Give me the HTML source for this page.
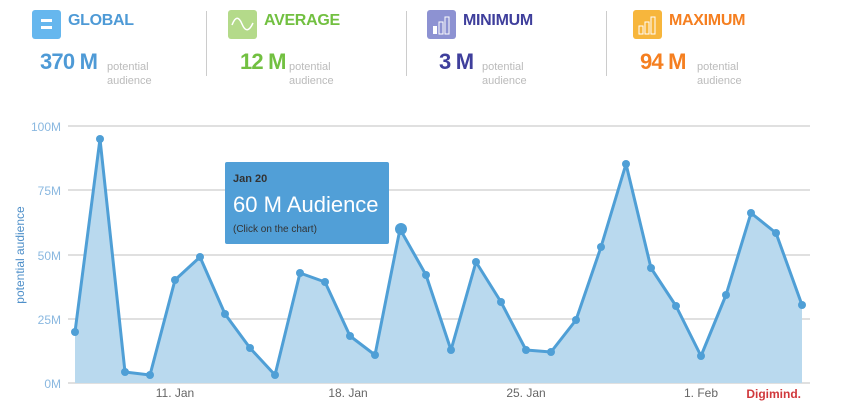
<!DOCTYPE html>
<html><head><style>
body{margin:0;width:841px;height:416px;background:#fff;font-family:"Liberation Sans",sans-serif;overflow:hidden;position:relative}
.k{position:absolute;top:10px}
.ic{position:absolute;left:0;top:0;width:29px;height:29px;border-radius:3px}
.t{position:absolute;left:36px;top:2px;font-weight:bold;font-size:16px;white-space:nowrap;letter-spacing:-0.3px}
.v{position:absolute;top:39px;font-weight:bold;font-size:22px;letter-spacing:-0.8px;white-space:nowrap}
.s{position:absolute;top:50px;font-size:11px;color:#bbb;line-height:14px}
.sep{position:absolute;top:11px;width:1px;height:65px;background:#ccc}
</style></head><body>
<div class="k" style="left:32px"><div class="ic" style="background:#66b7ee"><div style="position:absolute;left:9px;top:9px;width:11px;height:3px;background:#fff"></div><div style="position:absolute;left:9px;top:16px;width:11px;height:3px;background:#fff"></div></div><div class="t" style="color:#4e9ad6">GLOBAL</div><div class="v" style="left:8px;color:#4e9ad6">370 M</div><div class="s" style="left:75px">potential<br>audience</div></div>
<div class="sep" style="left:206px"></div>
<div class="k" style="left:228px"><div class="ic" style="background:#b4da8a"><svg width="29" height="29"><path d="M4 15 Q9 2 14 14 T25 13" stroke="#fff" stroke-width="1.5" fill="none"/></svg></div><div class="t" style="color:#72c041">AVERAGE</div><div class="v" style="left:12px;color:#72c041">12 M</div><div class="s" style="left:61px">potential<br>audience</div></div>
<div class="sep" style="left:406px"></div>
<div class="k" style="left:427px"><div class="ic" style="background:#8d92d2"><svg width="29" height="29"><rect x="6" y="16" width="4" height="8" fill="#fff"/><rect x="12" y="12" width="4" height="12" fill="none" stroke="#fff"/><rect x="18" y="7" width="4" height="17" fill="none" stroke="#fff"/></svg></div><div class="t" style="color:#3f3f9c">MINIMUM</div><div class="v" style="left:12px;color:#3f3f9c">3 M</div><div class="s" style="left:55px">potential<br>audience</div></div>
<div class="sep" style="left:606px"></div>
<div class="k" style="left:633px"><div class="ic" style="background:#f7b63c"><svg width="29" height="29"><rect x="6" y="16" width="4" height="8" fill="none" stroke="#fff"/><rect x="12" y="12" width="4" height="12" fill="none" stroke="#fff"/><rect x="18" y="7" width="4" height="17" fill="none" stroke="#fff"/></svg></div><div class="t" style="color:#f57f20">MAXIMUM</div><div class="v" style="left:7px;color:#f57f20">94 M</div><div class="s" style="left:64px">potential<br>audience</div></div>
<svg width="841" height="416" style="position:absolute;left:0;top:0">
<g stroke="#d6d6d6" stroke-width="1.5"><line x1="68" x2="810" y1="126" y2="126"/><line x1="68" x2="810" y1="190" y2="190"/><line x1="68" x2="810" y1="255" y2="255"/><line x1="68" x2="810" y1="319" y2="319"/><line x1="68" x2="810" y1="383" y2="383"/></g>
<g font-size="12" fill="#8ab8e0" text-anchor="end"><text x="61" y="131">100M</text><text x="61" y="195">75M</text><text x="61" y="260">50M</text><text x="61" y="324">25M</text><text x="61" y="388">0M</text></g>
<text transform="translate(24,255) rotate(-90)" text-anchor="middle" font-size="12" fill="#4e8fc9">potential audience</text>
<polygon fill="#b9d9ee" points="75,383 75,332 100,139 125,372 150,375 175,280 200,257 225,314 250,348 275,375 300,273 325,282 350,336 375,355 400,229 426,275 451,350 476,262 501,302 526,350 551,352 576,320 601,247 626,164 651,268 676,306 701,356 726,295 751,213 776,233 802,305 802,383"/>
<polyline fill="none" stroke="#4f9fd6" stroke-width="3" stroke-linejoin="round" points="75,332 100,139 125,372 150,375 175,280 200,257 225,314 250,348 275,375 300,273 325,282 350,336 375,355 400,229 426,275 451,350 476,262 501,302 526,350 551,352 576,320 601,247 626,164 651,268 676,306 701,356 726,295 751,213 776,233 802,305"/>
<g fill="#4f9fd6"><circle cx="75" cy="332" r="4"/><circle cx="100" cy="139" r="4"/><circle cx="125" cy="372" r="4"/><circle cx="150" cy="375" r="4"/><circle cx="175" cy="280" r="4"/><circle cx="200" cy="257" r="4"/><circle cx="225" cy="314" r="4"/><circle cx="250" cy="348" r="4"/><circle cx="275" cy="375" r="4"/><circle cx="300" cy="273" r="4"/><circle cx="325" cy="282" r="4"/><circle cx="350" cy="336" r="4"/><circle cx="375" cy="355" r="4"/><circle cx="401" cy="229" r="6"/><circle cx="426" cy="275" r="4"/><circle cx="451" cy="350" r="4"/><circle cx="476" cy="262" r="4"/><circle cx="501" cy="302" r="4"/><circle cx="526" cy="350" r="4"/><circle cx="551" cy="352" r="4"/><circle cx="576" cy="320" r="4"/><circle cx="601" cy="247" r="4"/><circle cx="626" cy="164" r="4"/><circle cx="651" cy="268" r="4"/><circle cx="676" cy="306" r="4"/><circle cx="701" cy="356" r="4"/><circle cx="726" cy="295" r="4"/><circle cx="751" cy="213" r="4"/><circle cx="776" cy="233" r="4"/><circle cx="802" cy="305" r="4"/></g>
<g font-size="12" fill="#666" text-anchor="middle"><text x="175" y="397">11. Jan</text><text x="348" y="397">18. Jan</text><text x="526" y="397">25. Jan</text><text x="701" y="397">1. Feb</text></g>
<text x="801" y="398" text-anchor="end" font-size="12" font-weight="bold" fill="#d0383c">Digimind.</text>
<rect x="225" y="162" width="164" height="82" rx="2" fill="#519fd7"/>
<text x="233" y="182" font-size="11" font-weight="bold" fill="#333">Jan 20</text>
<text x="233" y="212" font-size="22" fill="#fff">60 M Audience</text>
<text x="233" y="232" font-size="10" fill="#333">(Click on the chart)</text>
</svg>
</body></html>
